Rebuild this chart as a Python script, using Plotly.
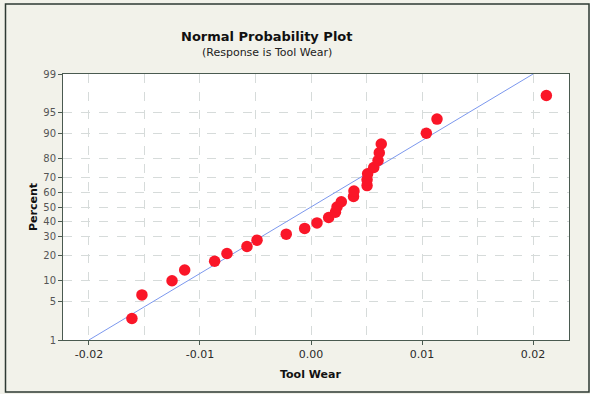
from statistics import NormalDist
import plotly.graph_objects as go

# Tool wear residual values (sorted)
tool_wear = [-0.01613, -0.01523, -0.01252, -0.01138, -0.00868, -0.00757, -0.00577,
             -0.00486, -0.00223, -0.00057, 0.00054, 0.00159, 0.00220, 0.00234,
             0.00273, 0.00383, 0.00387, 0.00505, 0.00505, 0.00510, 0.00565,
             0.00604, 0.00615, 0.00633, 0.01039, 0.01135, 0.02120]

# fitted normal line parameters
fit_mean = 0.0
fit_sd = 0.0086

percent_ticks = [1, 5, 10, 20, 30, 40, 50, 60, 70, 80, 90, 95, 99]
x_ticks = [-0.02, -0.01, 0.0, 0.01, 0.02]
x_tick_labels = ["-0.02", "-0.01", "0.00", "0.01", "0.02"]

nd = NormalDist()
n = len(tool_wear)
# median-rank plotting positions
probs = [(i + 1 - 0.3) / (n + 0.4) for i in range(n)]
z_pts = [nd.inv_cdf(p) for p in probs]
z_ticks = [nd.inv_cdf(p / 100) for p in percent_ticks]
z_lo, z_hi = z_ticks[0], z_ticks[-1]

line_z = [z_lo, z_hi]
line_x = [fit_mean + fit_sd * z for z in line_z]

fig = go.Figure()
fig.add_trace(go.Scatter(x=line_x, y=line_z, mode="lines",
                         line=dict(color="#7c98ee", width=1), hoverinfo="skip"))
fig.add_trace(go.Scatter(x=tool_wear, y=z_pts, mode="markers",
                         marker=dict(color="#fa1628", size=11.5, line=dict(width=0))))

L, R, T, B = 63, 21, 74, 54
W, H = 590, 394
pw, ph = W - L - R, H - T - B


def px(x):
    return (x - L) / pw


def py(y):
    return (H - B - y) / ph


grid_col = "#d6dbda"
fig.update_layout(
    width=W, height=H, showlegend=False,
    margin=dict(l=L, r=R, t=T, b=B),
    paper_bgcolor="#f2f2ea", plot_bgcolor="#ffffff",
    font=dict(family="DejaVu Sans", color="#333333"),
    xaxis=dict(range=[-0.02234, 0.02324], tickvals=x_ticks, ticktext=x_tick_labels,
               showgrid=True, gridcolor=grid_col, griddash="dash", gridwidth=1,
               minor=dict(dtick=0.005, tick0=0, showgrid=True, gridcolor=grid_col,
                          griddash="dash", gridwidth=1, ticks=""),
               ticks="outside", ticklen=4, tickcolor="#4a5a50",
               showline=True, linecolor="#4a5a50", linewidth=1, mirror=True,
               zeroline=False,
               tickfont=dict(family="DejaVu Sans", size=11, color="#2a2a2a")),
    yaxis=dict(range=[z_lo, z_hi], tickvals=z_ticks, ticktext=[str(p) for p in percent_ticks],
               showgrid=True, gridcolor=grid_col, griddash="dash", gridwidth=1,
               ticks="outside", ticklen=4, tickcolor="#4a5a50",
               showline=True, linecolor="#4a5a50", linewidth=1, mirror=True,
               zeroline=False,
               tickfont=dict(family="DejaVu Sans", size=10, color="#555555")),
    annotations=[
        dict(text="<b>Normal Probability Plot</b>", x=px(267), y=py(37), xref="paper", yref="paper",
             xanchor="center", yanchor="middle",
             showarrow=False, font=dict(family="DejaVu Sans", size=13, color="#111111")),
        dict(text="(Response is Tool Wear)", x=px(267), y=py(52), xref="paper", yref="paper",
             xanchor="center", yanchor="middle",
             showarrow=False, font=dict(family="DejaVu Sans", size=11, color="#222222")),
        dict(text="<b>Tool Wear</b>", x=px(310), y=py(374), xref="paper", yref="paper",
             xanchor="center", yanchor="middle",
             showarrow=False, font=dict(family="DejaVu Sans", size=11, color="#111111")),
        dict(text="<b>Percent</b>", x=px(33), y=py(207), xref="paper", yref="paper",
             xanchor="center", yanchor="middle",
             showarrow=False, textangle=-90,
             font=dict(family="DejaVu Sans", size=11, color="#111111")),
    ],
    shapes=[dict(type="rect", xref="paper", yref="paper",
                 x0=px(5.5), x1=px(589), y0=py(392), y1=py(4),
                 line=dict(color="#2e3a33", width=1.5), layer="below")],
)

fig.write_html("out.html")
